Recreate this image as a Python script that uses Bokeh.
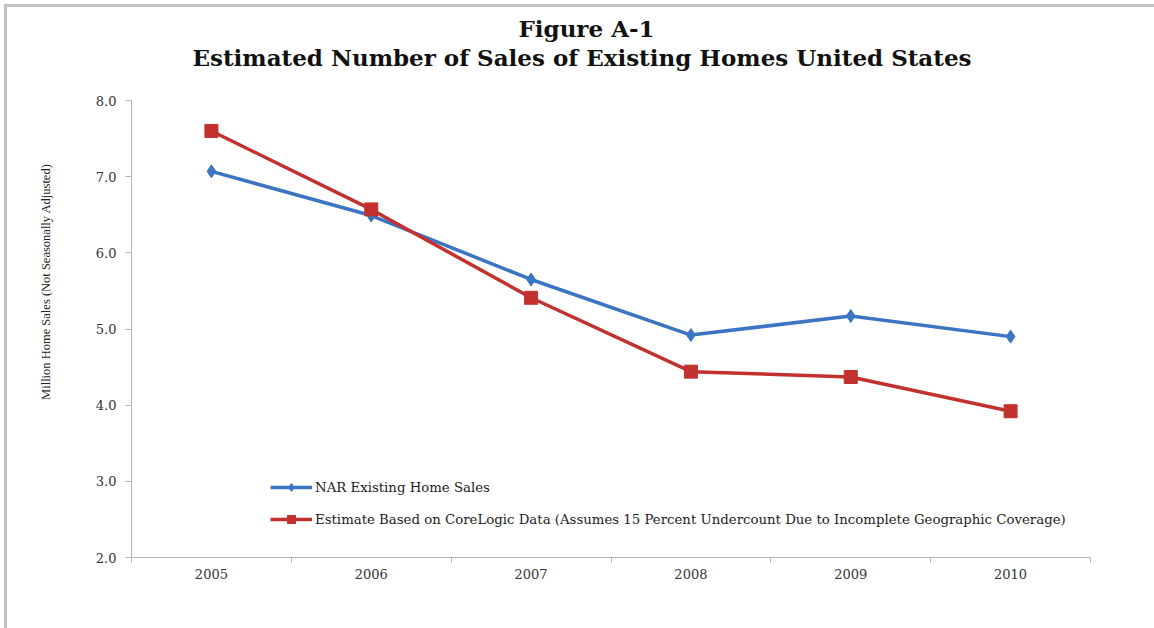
from bokeh.plotting import figure
from bokeh.models import Range1d, FixedTicker, Legend, LegendItem, Title, LinearAxis
from bokeh.embed import file_html
from bokeh.resources import INLINE

years = ["2005", "2006", "2007", "2008", "2009", "2010"]
nar_sales = [7.07, 6.49, 5.65, 4.92, 5.17, 4.90]
corelogic_est = [7.60, 6.57, 5.41, 4.44, 4.37, 3.92]
y_ticks = [2.0, 3.0, 4.0, 5.0, 6.0, 7.0, 8.0]

title_1 = "Figure A-1"
title_2 = "Estimated Number of Sales of Existing Homes United States"
y_label = "Million Home Sales (Not Seasonally Adjusted)"
nar_label = "NAR Existing Home Sales"
cl_label = ("Estimate Based on CoreLogic Data (Assumes 15 Percent Undercount "
            "Due to Incomplete Geographic Coverage)")

BLUE = "#3B74C2"
RED = "#C3312E"
AXIS = "#B4B4B4"
SERIF_WIDE = "DejaVu Serif"

xs = [i + 0.5 for i in range(len(years))]

p = figure(width=1154, height=628, output_backend="svg", toolbar_location=None,
           x_range=Range1d(0, len(years)), y_range=Range1d(min(y_ticks), max(y_ticks)),
           min_border_left=130, min_border_right=64, min_border_top=100,
           min_border_bottom=71)
p.styles = {"box-shadow": "inset 4px 4px 0 0 #ffffff, inset 7px 7px 0 0 #c2c2c2"}
p.border_fill_color = None
p.outline_line_color = None
p.xgrid.visible = False
p.ygrid.visible = False
p.background_fill_color = "white"

# x axis: labels at category centres, ticks at category boundaries
p.xaxis.ticker = FixedTicker(ticks=xs, minor_ticks=list(range(len(years) + 1)))
p.xaxis.major_label_overrides = {x: y for x, y in zip(xs, years)}
p.xaxis.major_tick_out = 0
p.xaxis.major_tick_in = 0
p.xaxis.minor_tick_out = 5
p.xaxis.minor_tick_in = 0
p.xaxis.minor_tick_line_color = AXIS
p.xaxis.axis_line_color = AXIS
p.xaxis.major_label_standoff = 6
p.xaxis.major_label_text_font = SERIF_WIDE
p.xaxis.major_label_text_font_size = "13px"
p.xaxis.major_label_text_color = "#333333"

p.yaxis.ticker = FixedTicker(ticks=y_ticks, minor_ticks=[])
p.yaxis.major_label_overrides = {t: f"{t:.1f}" for t in y_ticks}
p.yaxis.major_tick_out = 6
p.yaxis.major_tick_in = 0
p.yaxis.major_tick_line_color = AXIS
p.yaxis.axis_line_color = AXIS
p.yaxis.major_label_standoff = 9
p.yaxis.major_label_text_font = SERIF_WIDE
p.yaxis.major_label_text_font_size = "13px"
p.yaxis.major_label_text_color = "#333333"

# y-axis title, placed as a rotated title on the left (top end at fixed offset)
p.add_layout(Title(text=y_label, align="right", offset=63, vertical_align="top",
                   standoff=76, text_font="Liberation Serif", text_font_style="normal",
                   text_font_size="12.5px", text_color="#222222"), "left")

l1 = p.line(xs, nar_sales, line_color=BLUE, line_width=3.5)
m1 = p.scatter(xs, nar_sales, marker="diamond", size=13, fill_color=BLUE,
               line_color=BLUE)
l2 = p.line(xs, corelogic_est, line_color=RED, line_width=3.5)
m2 = p.scatter(xs, corelogic_est, marker="square", size=13, fill_color=RED,
               line_color=RED)

legend = Legend(items=[LegendItem(label=nar_label, renderers=[l1, m1]),
                       LegendItem(label=cl_label, renderers=[l2, m2])],
                location=(139, 28), orientation="vertical")
legend.border_line_color = None
legend.background_fill_alpha = 0
legend.margin = 0
legend.padding = 0
legend.glyph_width = 42
legend.glyph_height = 20
legend.label_height = 20
legend.spacing = 12
legend.label_standoff = 3
legend.label_text_font = SERIF_WIDE
legend.label_text_font_size = "13.3px"
legend.label_text_color = "#222222"
p.add_layout(legend, "center")

# invisible spacer between the frame and the titles (one hidden tick, no label)
spacer = LinearAxis(ticker=FixedTicker(ticks=[0], minor_ticks=[]), major_tick_out=30,
                    major_tick_in=0, axis_line_color=None, major_tick_line_color=None,
                    minor_tick_line_color=None, major_label_standoff=0,
                    major_label_overrides={0: ""})
p.add_layout(spacer, "above")

# main titles (subtitle line closest to the plot, "Figure A-1" on top)
p.add_layout(Title(text=title_2, align="left", offset=61, standoff=0,
                   text_font=SERIF_WIDE, text_font_style="bold",
                   text_font_size="23px", text_color="#111111"), "above")
p.title.text = title_1
p.title.align = "left"
p.title.offset = 387
p.title.standoff = 0
p.title.text_font = SERIF_WIDE
p.title.text_font_style = "bold"
p.title.text_font_size = "23px"
p.title.text_color = "#111111"

open("out.html", "w").write(file_html(p, INLINE))
